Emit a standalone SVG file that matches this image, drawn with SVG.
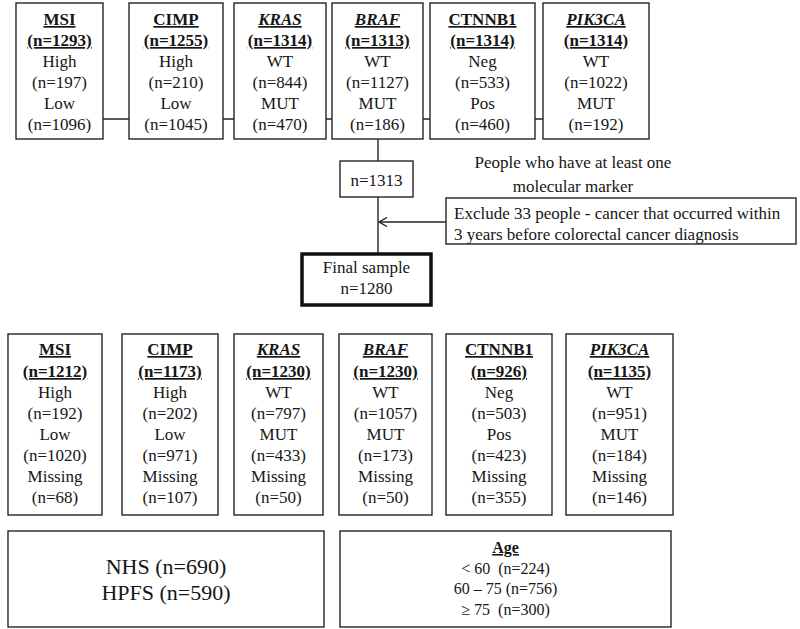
<svg xmlns="http://www.w3.org/2000/svg" width="800" height="629" viewBox="0 0 800 629" font-family="'Liberation Serif', 'DejaVu Serif', serif">
<style>
text{font-family:'Liberation Serif','DejaVu Serif',serif;fill:#161616;font-size:17px;text-anchor:middle}
.t{font-weight:bold;text-decoration:underline}
.i{font-style:italic}
.box{fill:#fff;stroke:#262626;stroke-width:1.4}
.thick{fill:#fff;stroke:#111;stroke-width:3.5}
.ln{fill:none;stroke:#262626;stroke-width:1.4}
.big{font-size:22px}
.age{font-size:16px}
.st{text-anchor:start}
</style>
<defs>
<marker id="open" viewBox="0 0 10 10" refX="9" refY="5" markerWidth="10" markerHeight="10" markerUnits="userSpaceOnUse" orient="auto">
<path d="M1,0.5 L9,5 L1,9.5" fill="none" stroke="#262626" stroke-width="1.4"/>
</marker>
</defs>
<g id="connectors">
<path class="ln" d="M103,119H129M223,119H234M326,119H332M423,119H430M535,119H543"/>
<path class="ln" d="M378,139V161M378,197V254"/>
<path class="ln" d="M446,222H379" marker-end="url(#open)"/>
</g>
<g id="top-msi">
<rect class="box" x="16" y="3" width="87" height="136"/>
<text x="59.5" y="25" class="t">MSI</text>
<text x="59.5" y="46" class="t">(n=1293)</text>
<text x="59.5" y="67">High</text>
<text x="59.5" y="88">(n=197)</text>
<text x="59.5" y="109">Low</text>
<text x="59.5" y="130">(n=1096)</text>
</g>
<g id="top-cimp">
<rect class="box" x="129" y="3" width="94" height="136"/>
<text x="176" y="25" class="t">CIMP</text>
<text x="176" y="46" class="t">(n=1255)</text>
<text x="176" y="67">High</text>
<text x="176" y="88">(n=210)</text>
<text x="176" y="109">Low</text>
<text x="176" y="130">(n=1045)</text>
</g>
<g id="top-kras">
<rect class="box" x="234" y="3" width="92" height="136"/>
<text x="280" y="25" class="t i">KRAS</text>
<text x="280" y="46" class="t">(n=1314)</text>
<text x="280" y="67">WT</text>
<text x="280" y="88">(n=844)</text>
<text x="280" y="109">MUT</text>
<text x="280" y="130">(n=470)</text>
</g>
<g id="top-braf">
<rect class="box" x="332" y="3" width="91" height="136"/>
<text x="377.5" y="25" class="t i">BRAF</text>
<text x="377.5" y="46" class="t">(n=1313)</text>
<text x="377.5" y="67">WT</text>
<text x="377.5" y="88">(n=1127)</text>
<text x="377.5" y="109">MUT</text>
<text x="377.5" y="130">(n=186)</text>
</g>
<g id="top-ctnnb1">
<rect class="box" x="430" y="3" width="105" height="136"/>
<text x="482.5" y="25" class="t">CTNNB1</text>
<text x="482.5" y="46" class="t">(n=1314)</text>
<text x="482.5" y="67">Neg</text>
<text x="482.5" y="88">(n=533)</text>
<text x="482.5" y="109">Pos</text>
<text x="482.5" y="130">(n=460)</text>
</g>
<g id="top-pik3ca">
<rect class="box" x="543" y="3" width="106" height="136"/>
<text x="596" y="25" class="t i">PIK3CA</text>
<text x="596" y="46" class="t">(n=1314)</text>
<text x="596" y="67">WT</text>
<text x="596" y="88">(n=1022)</text>
<text x="596" y="109">MUT</text>
<text x="596" y="130">(n=192)</text>
</g>
<g id="n1313">
<rect class="box" x="340" y="161" width="73" height="36"/>
<text x="376.5" y="186">n=1313</text>
</g>
<g id="note">
<text x="573" y="168">People who have at least one</text>
<text x="573" y="192">molecular marker</text>
</g>
<g id="exclude">
<rect class="box" x="446" y="198" width="350" height="46"/>
<text x="454" y="219" class="st">Exclude 33 people - cancer that occurred within</text>
<text x="454" y="240" class="st">3 years before colorectal cancer diagnosis</text>
</g>
<g id="final">
<rect class="thick" x="302" y="254" width="129" height="51"/>
<text x="366.5" y="273">Final sample</text>
<text x="366.5" y="294">n=1280</text>
</g>
<g id="bot-msi">
<rect class="box" x="8" y="334" width="94" height="181"/>
<text x="55" y="355" class="t">MSI</text>
<text x="55" y="377" class="t">(n=1212)</text>
<text x="55" y="398">High</text>
<text x="55" y="419">(n=192)</text>
<text x="55" y="440">Low</text>
<text x="55" y="461">(n=1020)</text>
<text x="55" y="482">Missing</text>
<text x="55" y="503">(n=68)</text>
</g>
<g id="bot-cimp">
<rect class="box" x="122" y="334" width="96" height="181"/>
<text x="170" y="355" class="t">CIMP</text>
<text x="170" y="377" class="t">(n=1173)</text>
<text x="170" y="398">High</text>
<text x="170" y="419">(n=202)</text>
<text x="170" y="440">Low</text>
<text x="170" y="461">(n=971)</text>
<text x="170" y="482">Missing</text>
<text x="170" y="503">(n=107)</text>
</g>
<g id="bot-kras">
<rect class="box" x="234" y="334" width="89" height="181"/>
<text x="278.5" y="355" class="t i">KRAS</text>
<text x="278.5" y="377" class="t">(n=1230)</text>
<text x="278.5" y="398">WT</text>
<text x="278.5" y="419">(n=797)</text>
<text x="278.5" y="440">MUT</text>
<text x="278.5" y="461">(n=433)</text>
<text x="278.5" y="482">Missing</text>
<text x="278.5" y="503">(n=50)</text>
</g>
<g id="bot-braf">
<rect class="box" x="339" y="334" width="93" height="181"/>
<text x="385.5" y="355" class="t i">BRAF</text>
<text x="385.5" y="377" class="t">(n=1230)</text>
<text x="385.5" y="398">WT</text>
<text x="385.5" y="419">(n=1057)</text>
<text x="385.5" y="440">MUT</text>
<text x="385.5" y="461">(n=173)</text>
<text x="385.5" y="482">Missing</text>
<text x="385.5" y="503">(n=50)</text>
</g>
<g id="bot-ctnnb1">
<rect class="box" x="446" y="334" width="106" height="181"/>
<text x="499" y="355" class="t">CTNNB1</text>
<text x="499" y="377" class="t">(n=926)</text>
<text x="499" y="398">Neg</text>
<text x="499" y="419">(n=503)</text>
<text x="499" y="440">Pos</text>
<text x="499" y="461">(n=423)</text>
<text x="499" y="482">Missing</text>
<text x="499" y="503">(n=355)</text>
</g>
<g id="bot-pik3ca">
<rect class="box" x="566" y="334" width="107" height="181"/>
<text x="619.5" y="355" class="t i">PIK3CA</text>
<text x="619.5" y="377" class="t">(n=1135)</text>
<text x="619.5" y="398">WT</text>
<text x="619.5" y="419">(n=951)</text>
<text x="619.5" y="440">MUT</text>
<text x="619.5" y="461">(n=184)</text>
<text x="619.5" y="482">Missing</text>
<text x="619.5" y="503">(n=146)</text>
</g>
<g id="cohort">
<rect class="box" x="8" y="531" width="316" height="96"/>
<text x="166" y="574" class="big">NHS (n=690)</text>
<text x="166" y="600" class="big">HPFS (n=590)</text>
</g>
<g id="age">
<rect class="box" x="340" y="531" width="331" height="96"/>
<text x="505.5" y="553" class="age t">Age</text>
<text x="505.5" y="574" class="age" xml:space="preserve">&lt; 60  (n=224)</text>
<text x="505.5" y="594" class="age">60 – 75 (n=756)</text>
<text x="505.5" y="615" class="age" xml:space="preserve">≥ 75  (n=300)</text>
</g>
</svg>
